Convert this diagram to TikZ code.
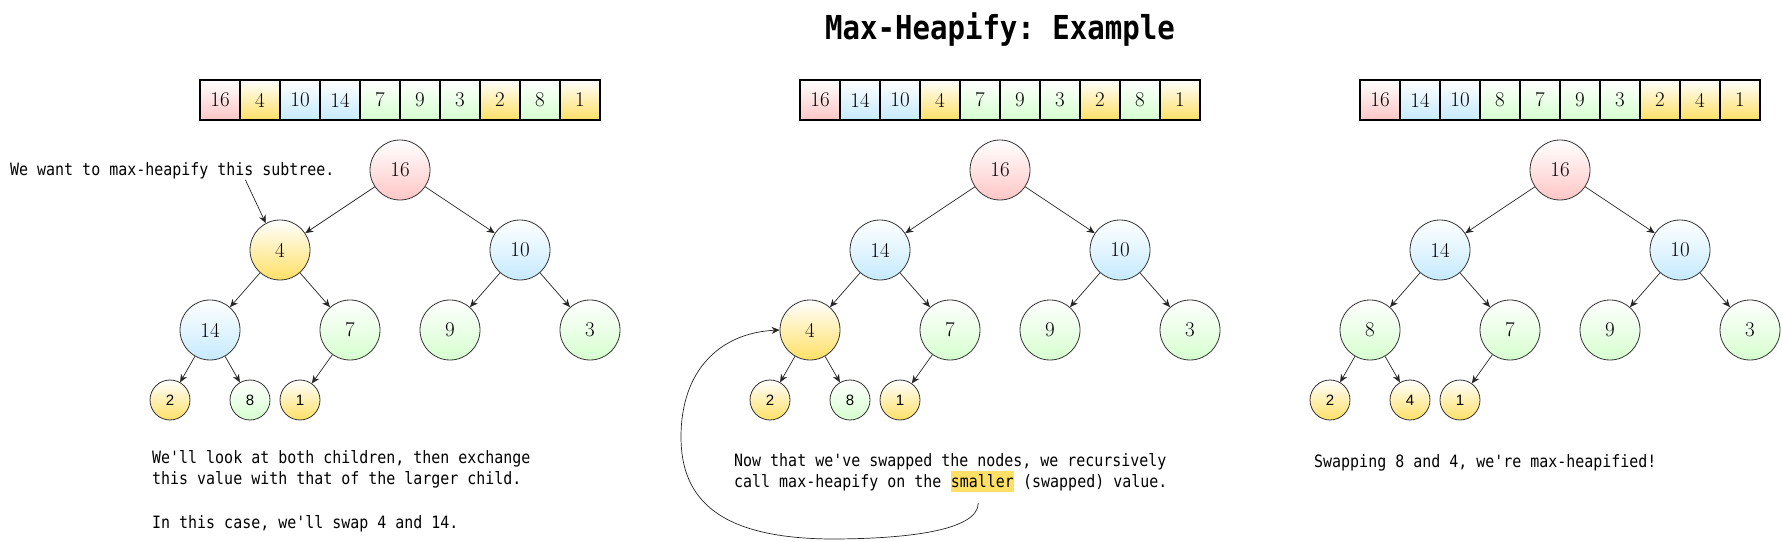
\documentclass[tikz,border=0pt]{standalone}
\usepackage{fontspec}
\setmonofont[FakeStretch=0.88]{DejaVu Sans Mono}
\newfontfamily\leaffont{Liberation Sans}
\usepackage{tikz}
\usetikzlibrary{arrows.meta,positioning}
\definecolor{heappink}{HTML}{FFC6C6}
\definecolor{heapyellow}{HTML}{FFE066}
\definecolor{heapblue}{HTML}{C6EAFF}
\definecolor{heapgreen}{HTML}{D6FFCF}
\definecolor{marker}{HTML}{FFE066}
\tikzset{
  pinkfill/.style={top color=white,bottom color=heappink},
  yellowfill/.style={top color=white,bottom color=heapyellow},
  bluefill/.style={top color=white,bottom color=heapblue},
  greenfill/.style={top color=white,bottom color=heapgreen},
  cell/.style={draw=black,line width=1.3pt,minimum size=40pt,inner sep=0pt,
    font=\fontsize{21}{24}\selectfont},
  heapnode/.style={circle,draw=black!80,line width=0.8pt,minimum size=60pt,
    inner sep=0pt,font=\fontsize{21}{24}\selectfont},
  heapleaf/.style={heapnode,minimum size=40pt,font=\leaffont\fontsize{15}{17}\selectfont},
  edge/.style={-{Stealth[length=8pt,width=7pt]},line width=0.7pt,draw=black!85},
  caption/.style={font=\ttfamily\fontsize{17}{21.7}\selectfont,inner sep=0pt,align=left},
  heading/.style={font=\ttfamily\bfseries\fontsize{33}{36}\selectfont,inner sep=0pt,anchor=base}
}
\begin{document}
\begin{tikzpicture}[x=1pt,y=1pt]
  \useasboundingbox (0,0) rectangle (1782,541);
  \node[heading] (title) at (1000,501) {Max-Heapify: Example};

  % first step: 4 sits above 14
  \foreach \v/\c [count=\i] in {16/pinkfill,4/yellowfill,10/bluefill,14/bluefill,7/greenfill,
      9/greenfill,3/greenfill,2/yellowfill,8/greenfill,1/yellowfill}
    \node[cell,\c] (arr1-\i) at (180+40*\i,441) {\v};
  \foreach \n/\x/\y/\v/\c in {1/400/371/16/pinkfill,2/280/291/4/yellowfill,3/520/291/10/bluefill,
      4/210/211/14/bluefill,5/350/211/7/greenfill,6/450/211/9/greenfill,7/590/211/3/greenfill}
    \node[heapnode,\c] (t1-\n) at (\x,\y) {\v};
  \foreach \n/\x/\v/\c in {8/170/2/yellowfill,9/250/8/greenfill,10/300/1/yellowfill}
    \node[heapleaf,\c] (t1-\n) at (\x,141) {\v};
  \node[caption,anchor=base west] (note) at (10,365) {We want to max-heapify this subtree.};
  \draw[edge] ([xshift=73pt]note.south) -- (t1-2.118);
  \node[caption,anchor=north west] (p1text) at (152,91) {We'll look at both children, then exchange\\
    this value with that of the larger child.\\[21.7pt]
    In this case, we'll swap 4 and 14.};

  % second step: 4 swapped down
  \begin{scope}[xshift=600pt]
    \foreach \v/\c [count=\i] in {16/pinkfill,14/bluefill,10/bluefill,4/yellowfill,7/greenfill,
        9/greenfill,3/greenfill,2/yellowfill,8/greenfill,1/yellowfill}
      \node[cell,\c] (arr2-\i) at (180+40*\i,441) {\v};
    \foreach \n/\x/\y/\v/\c in {1/400/371/16/pinkfill,2/280/291/14/bluefill,3/520/291/10/bluefill,
        4/210/211/4/yellowfill,5/350/211/7/greenfill,6/450/211/9/greenfill,7/590/211/3/greenfill}
      \node[heapnode,\c] (t2-\n) at (\x,\y) {\v};
    \foreach \n/\x/\v/\c in {8/170/2/yellowfill,9/250/8/greenfill,10/300/1/yellowfill}
      \node[heapleaf,\c] (t2-\n) at (\x,141) {\v};
  \end{scope}
  \node[caption,anchor=base west] (p2text) at (734,75) {Now that we've swapped the nodes, we recursively};
  \node[caption,anchor=base west] (p2call) at ([yshift=-21pt]p2text.base west) {call max-heapify on the};
  \node[caption,fill=marker,text height=14pt,text depth=3pt,inner ysep=2pt,
    right=9pt of p2call.base east,anchor=base west] (smaller) {smaller};
  \node[caption,right=9pt of smaller.base east,anchor=base west] (p2value) {(swapped) value.};
  \draw[edge] ([xshift=-4pt,yshift=-11pt]smaller.south) .. controls (978,10) and (905,2) .. (830,2)
    .. controls (720,3) and (681,41) .. (681,104)
    .. controls (681,171) and (720,208) .. (t2-4.west);

  % third step: done
  \begin{scope}[xshift=1160pt]
    \foreach \v/\c [count=\i] in {16/pinkfill,14/bluefill,10/bluefill,8/greenfill,7/greenfill,
        9/greenfill,3/greenfill,2/yellowfill,4/yellowfill,1/yellowfill}
      \node[cell,\c] (arr3-\i) at (180+40*\i,441) {\v};
    \foreach \n/\x/\y/\v/\c in {1/400/371/16/pinkfill,2/280/291/14/bluefill,3/520/291/10/bluefill,
        4/210/211/8/greenfill,5/350/211/7/greenfill,6/450/211/9/greenfill,7/590/211/3/greenfill}
      \node[heapnode,\c] (t3-\n) at (\x,\y) {\v};
    \foreach \n/\x/\v/\c in {8/170/2/yellowfill,9/250/4/yellowfill,10/300/1/yellowfill}
      \node[heapleaf,\c] (t3-\n) at (\x,141) {\v};
  \end{scope}
  \node[caption,anchor=base west] (p3text) at (1314,74) {Swapping 8 and 4, we're max-heapified!};

  \foreach \p in {1,2,3}
    \foreach \a/\b in {1/2,1/3,2/4,2/5,3/6,3/7,4/8,4/9,5/10}
      \draw[edge] (t\p-\a) -- (t\p-\b);
\end{tikzpicture}
\end{document}
